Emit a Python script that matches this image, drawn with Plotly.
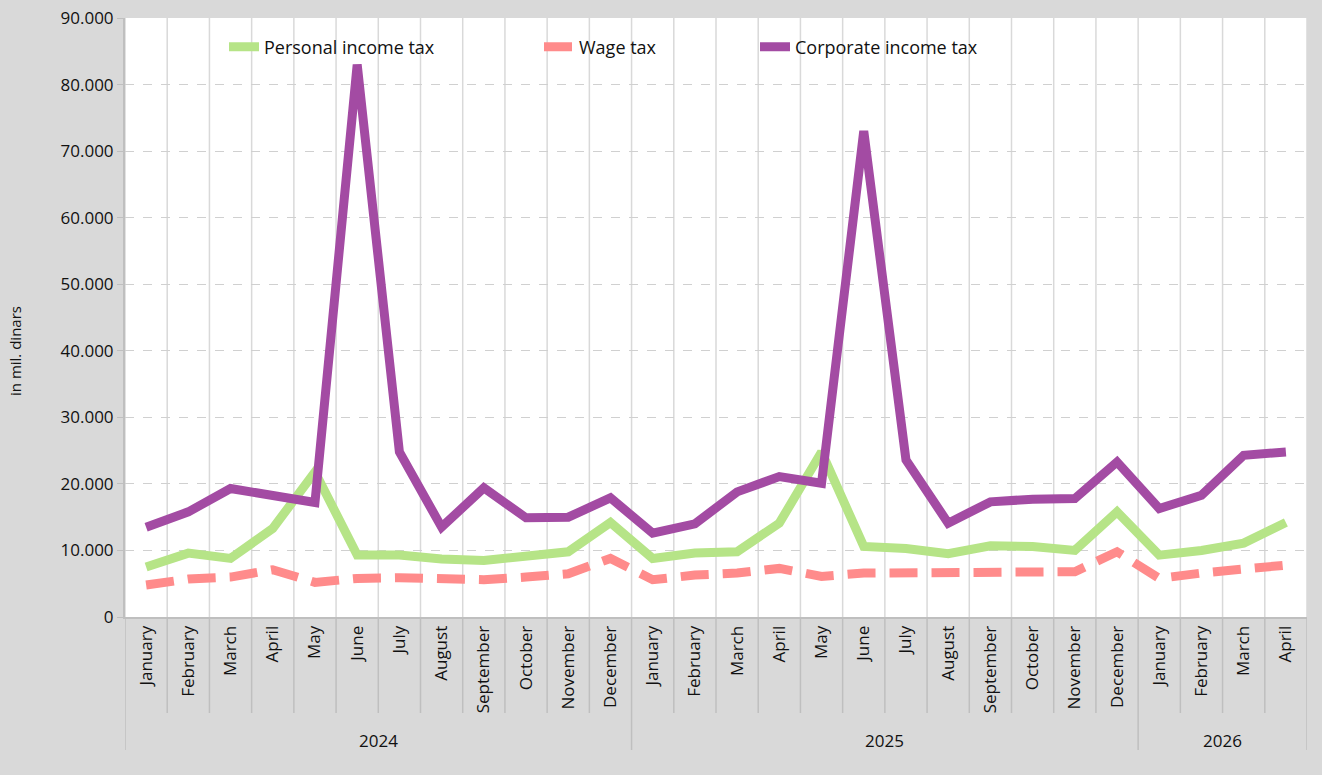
import plotly.graph_objects as go

months = ["January", "February", "March", "April", "May", "June", "July", "August",
          "September", "October", "November", "December",
          "January", "February", "March", "April", "May", "June", "July", "August",
          "September", "October", "November", "December",
          "January", "February", "March", "April"]
years = ["2024"] * 12 + ["2025"] * 12 + ["2026"] * 4

personal_income_tax = [7500, 9600, 8800, 13300, 21800, 9300, 9300, 8700, 8500, 9300, 9800, 14200,
                       8800, 9600, 9800, 14100, 24800, 10600, 10300, 9500, 10700, 10600, 10000, 15800,
                       9300, 10000, 11100, 14200]
wage_tax = [4800, 5700, 6000, 7100, 5200, 5800, 5900, 5800, 5600, 6000, 6500, 8800,
            5600, 6300, 6600, 7300, 6100, 6600, 6600, 6600, 6800, 6600, 6800, 9800,
            5800, 6600, 7100, 7800]
corporate_income_tax = [13500, 15800, 19300, 18300, 17200, 83000, 24800, 13500, 19400, 14900, 15000, 17900,
                        12600, 14000, 18800, 21100, 20100, 73000, 23600, 14100, 17300, 17700, 17800, 23300,
                        16300, 18300, 24300, 24800]

y_ticks = list(range(0, 90001, 10000))

FONT = "Open Sans"
TXT = "#111111"
x = list(range(len(months)))

L, R, T, B = 125, 15, 18, 158
W, H = 1322, 775
plot_w = W - L - R
plot_h = H - T - B

fig = go.Figure()
fig.add_trace(go.Scatter(x=x, y=personal_income_tax, name="Personal income tax", mode="lines",
                         line=dict(color="#B6E487", width=9), legend="legend"))
fig.add_trace(go.Scatter(x=x, y=wage_tax, name="Wage tax", mode="lines",
                         line=dict(color="#FF8B8B", width=9, dash="28px,14px"), legend="legend2"))
fig.add_trace(go.Scatter(x=x, y=corporate_income_tax, name="Corporate income tax", mode="lines",
                         line=dict(color="#A34BA3", width=9), legend="legend3"))

shapes = []
n = len(months)
for i in range(n + 1):
    b = i - 0.5
    shapes.append(dict(type="line", xref="x", yref="paper", x0=b, x1=b, y0=0, y1=1,
                       line=dict(color="#D9D9D9", width=1.5), layer="below"))
    is_year_edge = (i == 0 or i == n or years[i] != years[i - 1])
    y_low = -(750 - 617) / plot_h if is_year_edge else -(713 - 617) / plot_h
    shapes.append(dict(type="line", xref="x", yref="paper", x0=b, x1=b, y0=0, y1=y_low,
                       line=dict(color="#BFBFBF", width=1.5)))

annotations = []
for yr in dict.fromkeys(years):
    idx = [i for i, v in enumerate(years) if v == yr]
    annotations.append(dict(text=yr, x=sum(idx) / len(idx), xref="x", y=-(740 - 617) / plot_h,
                            yref="paper", showarrow=False, xanchor="center", yanchor="middle",
                            font=dict(family=FONT, size=17, color=TXT)))
annotations.append(dict(text="in mil. dinars", textangle=-90, x=-(L - 15) / plot_w, xref="paper",
                        y=(617 - 351) / plot_h, yref="paper", showarrow=False,
                        xanchor="center", yanchor="middle",
                        font=dict(family=FONT, size=15, color=TXT)))


def leg(text_start_px):
    return dict(orientation="h", x=(text_start_px - 41 - L) / plot_w, xanchor="left",
                y=(617 - 47) / plot_h, yanchor="middle", bgcolor="rgba(0,0,0,0)",
                font=dict(family=FONT, size=18, color=TXT))


fig.update_layout(
    width=W, height=H,
    margin=dict(l=L, r=R, t=T, b=B, autoexpand=False),
    paper_bgcolor="#D9D9D9", plot_bgcolor="#FFFFFF",
    separators=",.",
    font=dict(family=FONT, color=TXT),
    showlegend=True,
    legend=leg(265), legend2=leg(580), legend3=leg(796),
    shapes=shapes, annotations=annotations,
    xaxis=dict(range=[-0.5, n - 0.5], tickmode="array", tickvals=x, ticktext=months,
               tickangle=-90, showgrid=False, zeroline=False, ticks="", automargin=False,
               showline=True, linecolor="#BFBFBF", linewidth=2,
               tickfont=dict(family=FONT, size=17, color=TXT)),
    yaxis=dict(range=[0, 90000], tickmode="array", tickvals=y_ticks, tickformat=",d",
               showgrid=True, gridcolor="#D0D0D0", griddash="dash", gridwidth=1,
               zeroline=False, showline=True, linecolor="#BFBFBF", linewidth=2, automargin=False,
               ticks="outside", ticklen=6, tickcolor="#BFBFBF",
               tickfont=dict(family=FONT, size=17, color=TXT)),
)

fig.write_html("out.html", config={"displayModeBar": False},
               post_script="document.body.style.margin='0';")
